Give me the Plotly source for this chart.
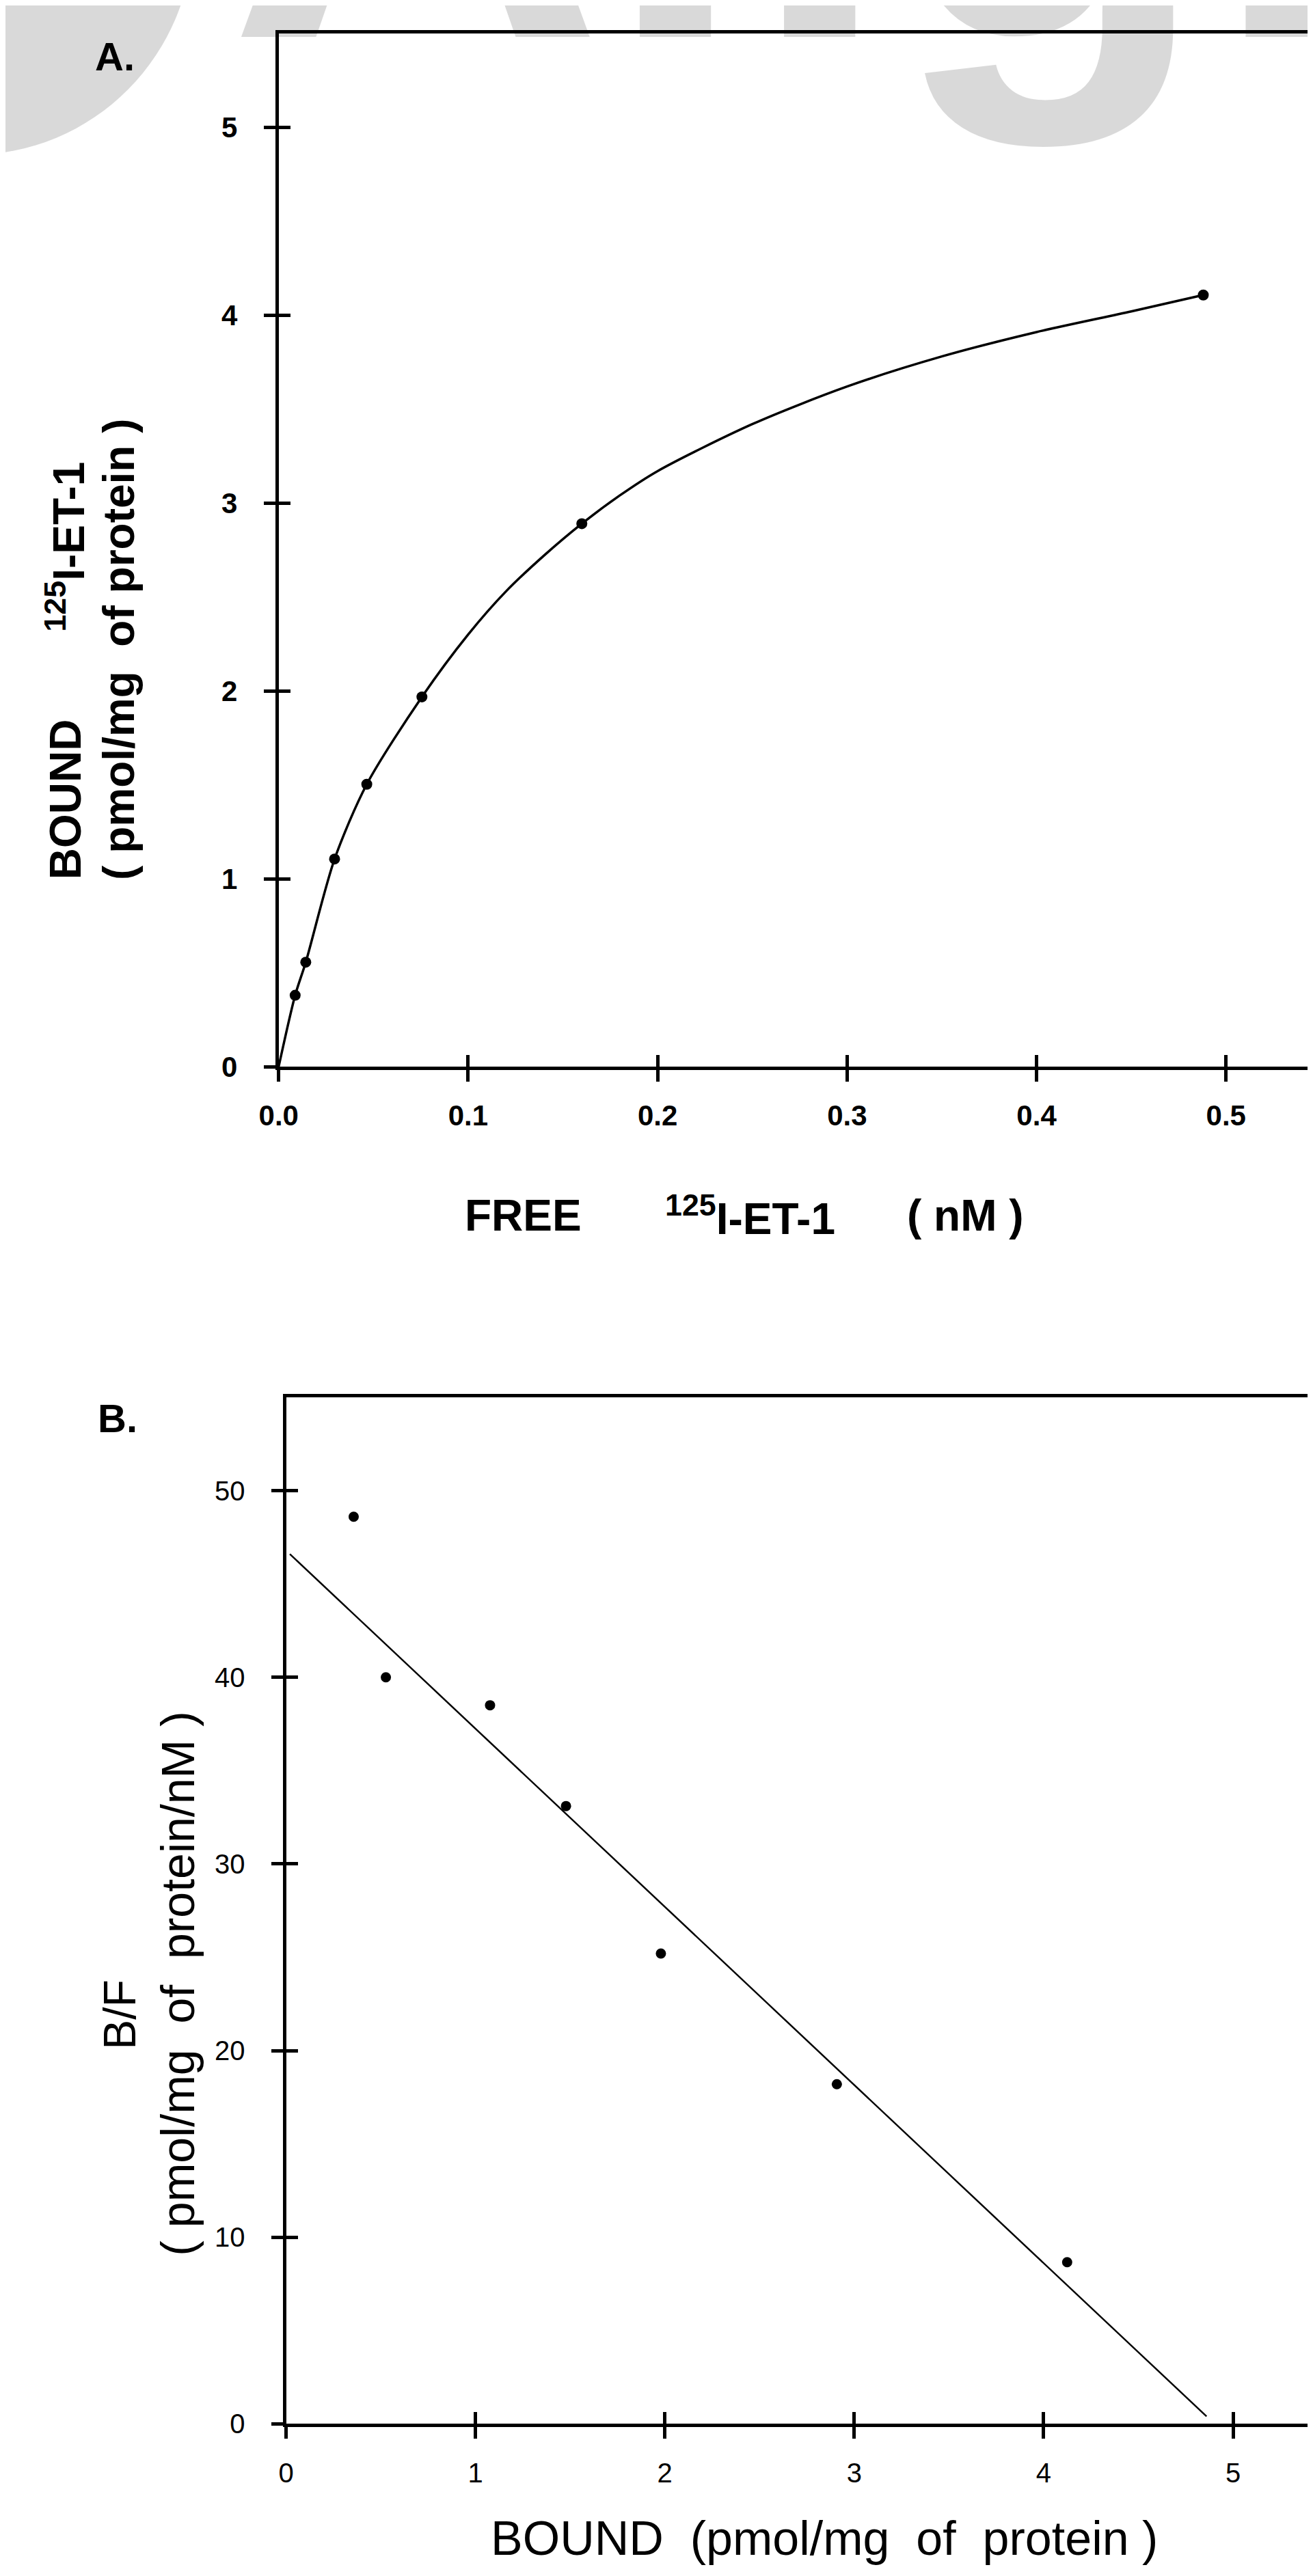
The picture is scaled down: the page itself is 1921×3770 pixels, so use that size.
import plotly.graph_objects as go

W, H = 1921, 3770

# ---------------- data ----------------
# Panel A: saturation binding
free_nM = [0.0087, 0.0143, 0.0295, 0.0465, 0.0756, 0.160, 0.488]
bound_A = [0.38, 0.556, 1.105, 1.503, 1.968, 2.89, 4.107]
curve_free = [0.0, 0.0087, 0.0143, 0.0295, 0.0465, 0.0756, 0.10, 0.12, 0.14, 0.16, 0.18, 0.2,
              0.25, 0.3, 0.35, 0.4, 0.45, 0.488]
curve_bound = [0.0, 0.38, 0.556, 1.105, 1.503, 1.968, 2.30, 2.53, 2.72, 2.89, 3.04, 3.17,
               3.42, 3.62, 3.78, 3.91, 4.02, 4.107]

# Panel B: Scatchard plot
bound_B = [0.357, 0.527, 1.077, 1.478, 1.979, 2.908, 4.124]
bf_B = [48.6, 40.0, 38.5, 33.1, 25.2, 18.2, 8.66]
fit_bound = [0.02, 4.86]
fit_bf = [46.6, 0.4]

xticksA = [0, 0.1, 0.2, 0.3, 0.4, 0.5]
xticktextA = ["0.0", "0.1", "0.2", "0.3", "0.4", "0.5"]
yticksA = [0, 1, 2, 3, 4, 5]
xticksB = [0, 1, 2, 3, 4, 5]
yticksB = [0, 10, 20, 30, 40, 50]

FONT = "Liberation Sans"


def px(x):
    return x / W


def py(y):
    return 1 - y / H


fig = go.Figure()

# Panel A
fig.add_trace(go.Scatter(x=curve_free, y=curve_bound, mode="lines",
                         line=dict(color="black", width=3.5, shape="spline", smoothing=0.8),
                         xaxis="x", yaxis="y", hoverinfo="skip"))
fig.add_trace(go.Scatter(x=free_nM, y=bound_A, mode="markers",
                         marker=dict(color="black", size=16),
                         xaxis="x", yaxis="y"))
# Panel B
fig.add_trace(go.Scatter(x=fit_bound, y=fit_bf, mode="lines",
                         line=dict(color="black", width=2.5),
                         xaxis="x2", yaxis="y2", hoverinfo="skip"))
fig.add_trace(go.Scatter(x=bound_B, y=bf_B, mode="markers",
                         marker=dict(color="black", size=15),
                         xaxis="x2", yaxis="y2"))
# invisible traces so the overlay (inside-tick) axes get drawn
fig.add_trace(go.Scatter(x=[0], y=[0], mode="markers", marker=dict(size=1, opacity=0),
                         xaxis="x3", yaxis="y3", hoverinfo="skip"))
fig.add_trace(go.Scatter(x=[0], y=[0], mode="markers", marker=dict(size=1, opacity=0),
                         xaxis="x4", yaxis="y4", hoverinfo="skip"))

domA_x = [px(377), px(1919)]
domA_y = [py(1563), py(41)]
domB_x = [px(388), px(1919)]
domB_y = [py(3562), py(2050)]
rangeA_x = [0, 0.547]
rangeA_y = [0, 5.5]
rangeB_x = [0, 5.433]
rangeB_y = [0, 55]

tickfontA = dict(family=FONT, size=42, color="black", weight="bold")
tickfontB = dict(family=FONT, size=40, color="black")

base = dict(showline=True, linecolor="black", linewidth=5, mirror=True,
            ticks="outside", ticklen=17, tickwidth=5, tickcolor="black",
            showgrid=False, zeroline=False, fixedrange=True)
over = dict(showline=False, ticks="inside", ticklen=17, tickwidth=5, tickcolor="black",
            showticklabels=False, showgrid=False, zeroline=False, fixedrange=True)

fig.update_layout(
    width=W, height=H,
    margin=dict(l=0, r=0, t=0, b=0),
    paper_bgcolor="white", plot_bgcolor="rgba(0,0,0,0)",
    showlegend=False,
    xaxis=dict(base, domain=domA_x, range=rangeA_x, anchor="y",
               tickvals=xticksA, ticktext=xticktextA, tickfont=tickfontA, ticklabelstandoff=14),
    yaxis=dict(base, domain=domA_y, range=rangeA_y, anchor="x",
               tickvals=yticksA, tickfont=tickfontA, ticklabelstandoff=30),
    xaxis3=dict(over, domain=domA_x, range=rangeA_x, anchor="y3", overlaying="x", tickvals=xticksA),
    yaxis3=dict(over, domain=domA_y, range=rangeA_y, anchor="x3", overlaying="y", tickvals=yticksA),
    xaxis2=dict(base, domain=domB_x, range=rangeB_x, anchor="y2",
                tickvals=xticksB, tickfont=tickfontB, ticklabelstandoff=16),
    yaxis2=dict(base, domain=domB_y, range=rangeB_y, anchor="x2",
                tickvals=yticksB, tickfont=tickfontB, ticklabelstandoff=30),
    xaxis4=dict(over, domain=domB_x, range=rangeB_x, anchor="y4", overlaying="x2", tickvals=xticksB),
    yaxis4=dict(over, domain=domB_y, range=rangeB_y, anchor="x4", overlaying="y2", tickvals=yticksB),
)

NB = "\u00a0"
ann = []


def add(text, x, y, size, bold=True, xa="center", ya="middle", angle=0, color="black"):
    ann.append(dict(text=text, x=px(x), y=py(y), xref="paper", yref="paper",
                    xanchor=xa, yanchor=ya, textangle=angle, showarrow=False,
                    font=dict(family=FONT, size=size, color=color,
                              weight="bold" if bold else "normal")))


# watermark (light grey, partly off the top edge)
add("Align", 300, 215, 760, bold=True, xa="left", ya="bottom", color="rgba(0,0,0,0.15)")

# panel letters
add("A.", 102, 40, 58, xa="left", ya="top")
add("B.", 106, 2046, 58, xa="left", ya="top")

# Panel A titles
add("BOUND", 60, 1290, 64, ya="bottom", angle=-90)
add("<sup>125</sup>I-ET-1", 60, 925, 64, ya="bottom", angle=-90)
add("(" + NB + "pmol/mg" + NB + NB + "of" + NB + "protein" + NB + ")", 140, 1290, 64, ya="bottom", angle=-90)
add("FREE", 652, 1782, 64, xa="left")
add("<sup>125</sup>I-ET-1", 950, 1782, 64, xa="left")
add("(" + NB + "nM" + NB + ")", 1310, 1782, 64, xa="left")

# Panel B titles
add("B/F", 141, 2959, 66, bold=False, angle=-90)
add("(" + NB + "pmol/mg" + NB + NB + "of" + NB + NB + "protein/nM" + NB + ")", 227, 2914, 68,
    bold=False, angle=-90)
add("BOUND" + NB + NB + "(pmol/mg" + NB + NB + "of" + NB + NB + "protein" + NB + ")", 1189, 3731, 70,
    bold=False)

fig.update_layout(annotations=ann)

# watermark disc (partial, top-left)
fig.add_shape(type="circle", xref="paper", yref="paper",
              x0=px(-80 - 330), x1=px(-80 + 330), y0=py(-110 + 330), y1=py(-110 - 330),
              fillcolor="rgba(0,0,0,0.15)", line=dict(width=0), layer="below")

fig.write_html("out.html")
